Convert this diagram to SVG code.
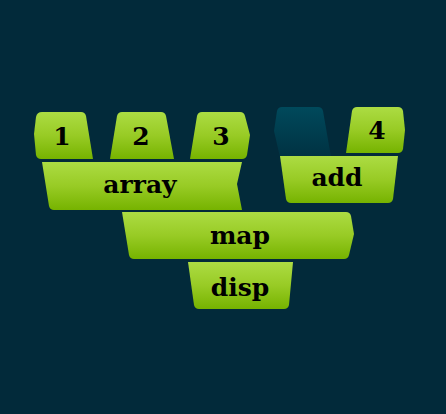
<svg xmlns="http://www.w3.org/2000/svg" width="446" height="414" viewBox="0 0 446 414">
<defs>
<linearGradient id="g" x1="0" y1="0" x2="0" y2="1">
<stop offset="0" stop-color="#acdc43"/>
<stop offset="0.5" stop-color="#98cb25"/>
<stop offset="1" stop-color="#76b300"/>
</linearGradient>
<linearGradient id="d" x1="0" y1="0" x2="0" y2="1">
<stop offset="0" stop-color="#00495b"/>
<stop offset="1" stop-color="#003242"/>
</linearGradient>
</defs>
<style>
.b{fill:url(#g);}
.h{fill:url(#d);}
text{font-family:"DejaVu Serif","Liberation Serif",serif;font-weight:bold;font-size:25px;fill:#000;text-anchor:middle;}
</style>
<rect width="446" height="414" fill="#022a3a"/>
<g id="connectors"></g>
<g id="n1"><path class="b" d="M42,112 L81,112 Q85,112 86,116 L93,159 L41,159 Q37,159 36,155 L34,134 L36,117 Q37,112 42,112 Z"/><text x="62" y="145">1</text></g>
<g id="n2"><path class="b" d="M122,112 L161,112 Q165,112 166,116 L174,159 L110,159 L117,116 Q118,112 122,112 Z"/><text x="141" y="145">2</text></g>
<g id="n3"><path class="b" d="M202,112 L240,112 Q244,112 245,116 L250,135 L247,155 Q246,159 242,159 L190,159 L197,116 Q198,112 202,112 Z"/><text x="221" y="145">3</text></g>
<g id="array"><path class="b" d="M42,162 L242,162 L237,184 L242,210 L54,210 Q50,210 49,206 Z"/><text x="140" y="193">array</text></g>
<g id="hole"><path class="h" d="M282,107 L318,107 Q322,107 323,111 L331,157 L280,157 L274,131 L277,111 Q278,107 282,107 Z"/></g>
<g id="n4"><path class="b" d="M357,107 L398,107 Q402,107 403,111 L405,130 L403,149 Q402,153 398,153 L346,153 L352,111 Q353,107 357,107 Z"/><text x="377" y="139">4</text></g>
<g id="add"><path class="b" d="M280,156 L398,156 L393,199 Q392,203 388,203 L291,203 Q287,203 286,199 Z"/><text x="337" y="186">add</text></g>
<g id="map"><path class="b" d="M122,212 L346,212 Q350,212 351,216 L354,234 L349,255 Q348,259 344,259 L134,259 Q130,259 129,255 Z"/><text x="240" y="244">map</text></g>
<g id="disp"><path class="b" d="M188,262 L293,262 L289,305 Q288,309 284,309 L199,309 Q195,309 194,305 Z"/><text x="240" y="296">disp</text></g>
</svg>
